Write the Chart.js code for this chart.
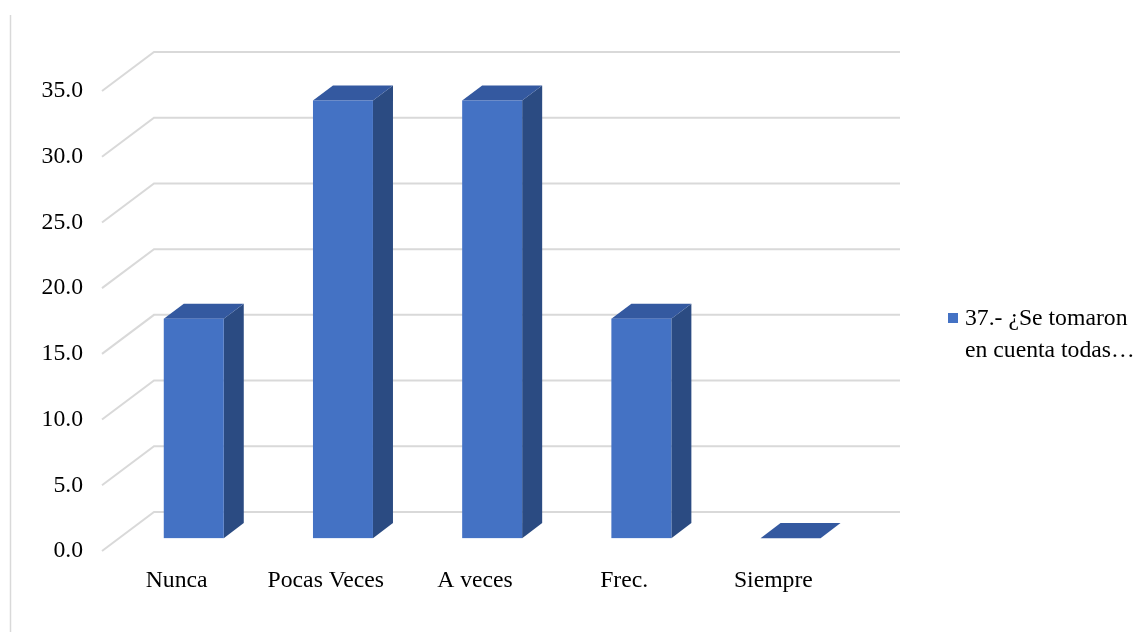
<!DOCTYPE html>
<html>
<head>
<meta charset="utf-8">
<script src="https://cdn.jsdelivr.net/npm/chart.js@4/dist/chart.umd.min.js"></script>
<style>
  html, body { margin: 0; padding: 0; background: #ffffff; }
  #wrap { position: relative; width: 1138px; height: 632px; }
</style>
</head>
<body>
<div id="wrap"><canvas id="chart" width="1138" height="632"></canvas></div>
<script>
// Response categories and percentages
const categories = ['Nunca', 'Pocas Veces', 'A veces', 'Frec.', 'Siempre'];
const values = [16.7, 33.3, 33.3, 16.7, 0.0];
const seriesName = ['37.- ¿Se tomaron', 'en cuenta todas…'];
const yTicks = [0, 5, 10, 15, 20, 25, 30, 35];

const FONT = "'Liberation Serif', 'Times New Roman', serif";
const FONT_SIZE = 23.7;

// Perspective of the 3D box: back wall offset from the front plane
const WALL_DX = 52, WALL_DY = 39;
// Bars sit inside the depth: front face offset and bar thickness
const BAR_FRONT = 0.33, BAR_DEPTH = 0.385;

const COLOR_FRONT = '#4472C4';
const COLOR_TOP = '#3459A0';
const COLOR_SIDE = '#2B4B82';
const GRID = '#D9D9D9';

const frame3d = {
  id: 'frame3d',
  beforeDraw(chart) {
    const ctx = chart.ctx;
    ctx.save();
    ctx.fillStyle = '#ffffff';
    ctx.fillRect(0, 0, chart.width, chart.height);
    // outer frame edge on the left
    ctx.strokeStyle = GRID;
    ctx.lineWidth = 1.5;
    ctx.beginPath();
    ctx.moveTo(10.5, 15);
    ctx.lineTo(10.5, chart.height);
    ctx.stroke();
    ctx.restore();
  },
  beforeDatasetsDraw(chart) {
    const ctx = chart.ctx;
    const ys = chart.scales.y;
    const area = chart.chartArea;
    ctx.save();
    ctx.strokeStyle = GRID;
    ctx.lineWidth = 2;
    ctx.lineJoin = 'miter';
    yTicks.forEach(v => {
      const yf = ys.getPixelForValue(v);
      ctx.beginPath();
      ctx.moveTo(area.left, yf);
      ctx.lineTo(area.left + WALL_DX, yf - WALL_DY);
      ctx.lineTo(area.right + WALL_DX, yf - WALL_DY);
      ctx.stroke();
    });
    ctx.restore();
  },
  afterDatasetsDraw(chart) {
    const ctx = chart.ctx;
    const meta = chart.getDatasetMeta(0);
    const ox = WALL_DX * BAR_FRONT, oy = WALL_DY * BAR_FRONT;
    const bx = WALL_DX * BAR_DEPTH, by = WALL_DY * BAR_DEPTH;
    ctx.save();
    meta.data.forEach(el => {
      const p = el.getProps(['x', 'y', 'base', 'width'], true);
      const x0 = p.x - p.width / 2 + ox;
      const x1 = p.x + p.width / 2 + ox;
      const yt = p.y - oy;
      const yb = p.base - oy;
      // side face
      ctx.fillStyle = COLOR_SIDE;
      ctx.beginPath();
      ctx.moveTo(x1, yt);
      ctx.lineTo(x1 + bx, yt - by);
      ctx.lineTo(x1 + bx, yb - by);
      ctx.lineTo(x1, yb);
      ctx.closePath();
      ctx.fill();
      // top face
      ctx.fillStyle = COLOR_TOP;
      ctx.beginPath();
      ctx.moveTo(x0, yt);
      ctx.lineTo(x0 + bx, yt - by);
      ctx.lineTo(x1 + bx, yt - by);
      ctx.lineTo(x1, yt);
      ctx.closePath();
      ctx.fill();
      // front face
      if (yb - yt > 0) {
        ctx.fillStyle = COLOR_FRONT;
        ctx.fillRect(x0, yt, x1 - x0, yb - yt);
      }
    });
    ctx.restore();
  },
  afterDraw(chart) {
    // series legend on the right
    const ctx = chart.ctx;
    ctx.save();
    ctx.fillStyle = COLOR_FRONT;
    ctx.fillRect(948, 313, 10, 10);
    ctx.fillStyle = '#000000';
    ctx.font = FONT_SIZE + 'px ' + FONT;
    ctx.textBaseline = 'middle';
    ctx.textAlign = 'left';
    seriesName.forEach((t, i) => ctx.fillText(t, 965, 319 + i * 32));
    ctx.restore();
  }
};

new Chart(document.getElementById('chart'), {
  type: 'bar',
  data: {
    labels: categories,
    datasets: [{
      label: seriesName.join(' '),
      data: values,
      backgroundColor: 'rgba(0,0,0,0)',
      borderWidth: 0,
      categoryPercentage: 1.0,
      barPercentage: 0.402
    }]
  },
  options: {
    responsive: false,
    animation: false,
    events: [],
    layout: { padding: { left: 0, right: 290, top: 91, bottom: 0 } },
    plugins: {
      legend: { display: false },
      tooltip: { enabled: false },
      title: { display: false }
    },
    scales: {
      x: {
        type: 'category',
        offset: true,
        grid: { display: false, drawTicks: false },
        border: { display: false },
        ticks: {
          color: '#000000',
          font: { family: FONT, size: FONT_SIZE },
          padding: 16,
          maxRotation: 0,
          autoSkip: false
        },
        afterFit(scale) { scale.height = 81; }
      },
      y: {
        min: 0,
        max: 35,
        grid: { display: false, drawTicks: false },
        border: { display: false },
        afterBuildTicks(scale) { scale.ticks = yTicks.map(v => ({ value: v })); },
        ticks: {
          color: '#000000',
          font: { family: FONT, size: FONT_SIZE },
          padding: 19,
          callback: v => Number(v).toFixed(1)
        },
        afterFit(scale) { scale.width = 102; }
      }
    }
  },
  plugins: [frame3d]
});
</script>
</body>
</html>
